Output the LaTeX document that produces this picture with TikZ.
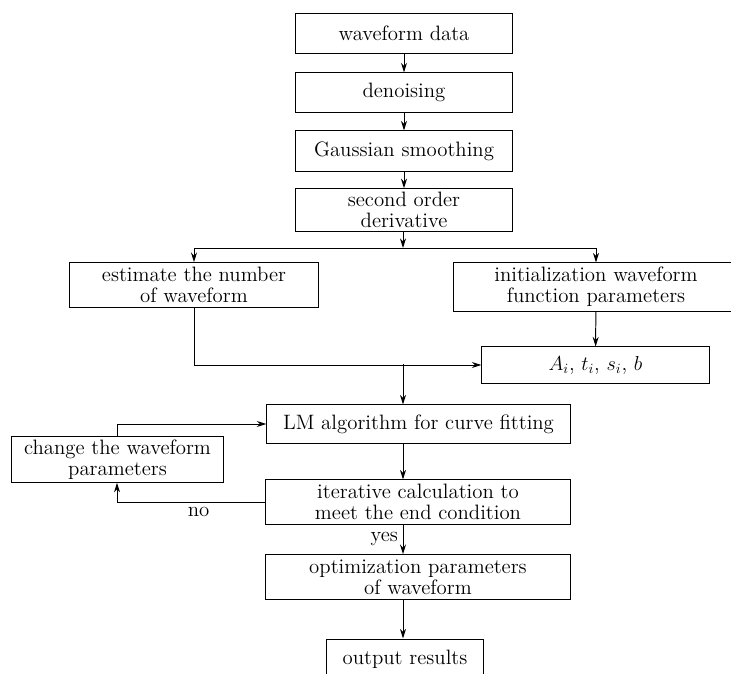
\documentclass[tikz,border=0pt]{standalone}
\usepackage{fontspec}
\usetikzlibrary{arrows.meta}

\begin{document}
\begin{tikzpicture}[x=0.025cm, y=-0.025cm, >={Stealth[length=2.4mm, width=1.5mm]}, line width=0.7pt,
    box/.style={draw, align=center, inner sep=0pt, font=\fontsize{14.8}{15}\selectfont},
    lbl/.style={font=\fontsize{14.8}{15}\selectfont}]
  \useasboundingbox (0,0) rectangle (731,674);
  % main chain
  \node[box, minimum width=5.4cm, minimum height=1.02cm] (data) at (404,33.5) {waveform data};
  \node[box, minimum width=5.4cm, minimum height=0.98cm] (denoise) at (404,92.5) {denoising};
  \node[box, minimum width=5.4cm, minimum height=1.0cm] (gauss) at (404,151) {Gaussian smoothing};
  \node[box, minimum width=5.4cm, minimum height=1.06cm] (deriv) at (404,210) {second order\\derivative};
  % two branches
  \node[box, minimum width=6.2cm, minimum height=1.12cm] (est) at (194,285) {estimate the number\\of waveform};
  \node[box, minimum width=7.1cm, minimum height=1.2cm] (init) at (596,287) {initialization waveform\\function parameters};
  \node[box, minimum width=5.68cm, minimum height=0.9cm] (par) at (595.5,365) {$A_i$, $t_i$, $s_i$, $b$};
  % fitting loop
  \node[box, minimum width=7.58cm, minimum height=0.95cm] (lm) at (418.5,424) {LM algorithm for curve fitting};
  \node[box, minimum width=5.28cm, minimum height=1.14cm] (chg) at (117.5,459.5) {change the waveform\\parameters};
  \node[box, minimum width=7.6cm, minimum height=1.1cm] (iter) at (418,502) {iterative calculation to\\meet the end condition};
  \node[box, minimum width=7.6cm, minimum height=1.12cm] (opt) at (418,577) {optimization parameters\\of waveform};
  \node[box, minimum width=3.9cm, minimum height=1.0cm] (out) at (405,659) {output results};
  \coordinate (split) at (403,248);
  \coordinate (join) at (403,364);
  \coordinate (noturn) at (117,502);
  \coordinate (chgup) at (117,424);

  \draw[->] (data) -- (denoise);
  \draw[->] (denoise) -- (gauss);
  \draw[->] (gauss) -- (deriv);
  \draw[->] (deriv.south -| split) -- (split);
  \draw[->] (split) -| (est.north);
  \draw[->] (split) -| (init.north);
  \draw[->] (init) -- (par);
  \draw[->] (est.south) |- (par.west);
  \draw[->] (join) -- (lm.north -| join);
  \draw[->] (lm.south -| join) -- (iter.north -| join);
  \draw[->] (iter.south -| join) -- node[lbl, left]{yes} (opt.north -| join);
  \draw[->] (opt.south -| join) -- (out.north -| join);
  \draw[->] (iter.west) -- node[lbl, below, pos=0.45]{no} (noturn) -- (chg.south -| noturn);
  \draw[->] (chg.north -| chgup) -- (chgup) -- (lm.west);
\end{tikzpicture}
\end{document}
